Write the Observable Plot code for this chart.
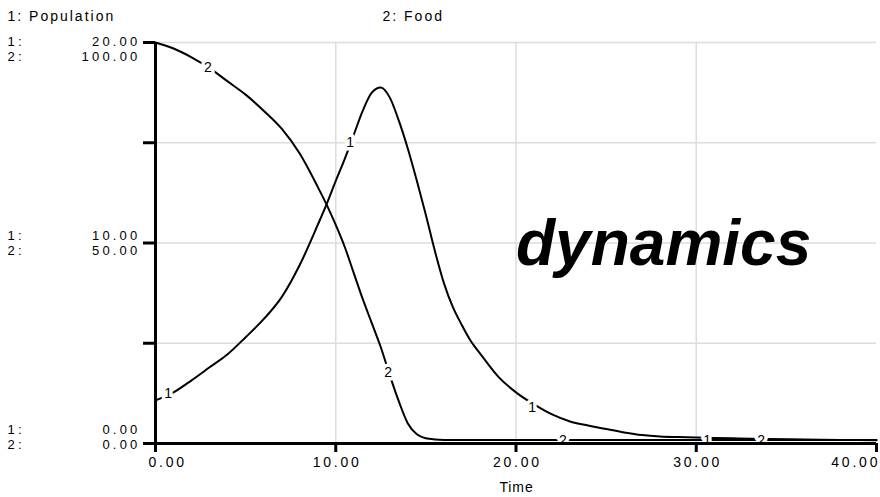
<!DOCTYPE html>
<html>
<head>
<meta charset="utf-8">
<script src="https://cdn.jsdelivr.net/npm/d3@7"></script>
<script src="https://cdn.jsdelivr.net/npm/@observablehq/plot@0.6"></script>
<style>
  html, body { margin: 0; padding: 0; background: #fff; }
  #wrap { position: relative; width: 880px; height: 497px; overflow: hidden; }
  #wrap svg text { letter-spacing: 2.8px; }
  #wrap svg [aria-description="ylabels"] text { letter-spacing: 3.2px; }
  #wrap svg [aria-description="header"] text { letter-spacing: 2px; }
  #wrap svg [aria-description="title"] text { letter-spacing: 0.9px; }
  #wrap svg [aria-description="linelabel"] text { letter-spacing: 0; }
  #big { position: absolute; left: 516px; top: 211px; font-family: "Liberation Sans", Arial, sans-serif;
         font-weight: bold; font-style: italic; font-size: 64px; line-height: 64px; color: #000; white-space: nowrap; }
</style>
</head>
<body>
<div id="wrap"><div id="big">dynamics</div></div>
<script>
// ---- data ----
const times      = [0, 1, 2, 3, 4, 5, 6, 7, 8, 9, 9.5, 10, 10.5, 11, 11.5, 12, 12.5, 13, 13.5, 14, 14.5, 15, 15.5, 16, 16.5, 17, 17.5, 18, 19, 20, 21, 22, 23, 24, 25, 26, 27, 28, 29, 30, 32, 34, 36, 38, 40];
const population = [2.15, 2.55, 3.15, 3.8, 4.45, 5.3, 6.2, 7.3, 8.9, 10.9, 11.95, 13.1, 14.2, 15.4, 16.6, 17.5, 17.75, 17.25, 16.1, 14.7, 13.1, 11.4, 9.6, 8.0, 6.8, 5.9, 5.1, 4.5, 3.35, 2.55, 1.95, 1.45, 1.1, 0.9, 0.72, 0.55, 0.42, 0.35, 0.32, 0.3, 0.26, 0.22, 0.2, 0.18, 0.16];
const food       = [100, 98.5, 96.3, 93.6, 90.3, 87, 83, 78.5, 72.3, 64, 59.5, 54.5, 49, 42.5, 36, 30, 24, 17, 10.5, 5, 2.3, 1.3, 1.0, 0.9, 0.9, 0.9, 0.9, 0.9, 0.9, 0.9, 0.9, 0.9, 0.9, 0.9, 0.9, 0.9, 0.9, 0.9, 0.9, 0.9, 0.9, 0.9, 0.9, 0.9, 0.9];
const seriesNames = ["1: Population", "2: Food"];
// line-label positions (time, value in each series' own units)
const popLabelT   = [0.7, 10.8, 20.9, 30.6];
const popLabelV   = [2.5, 15.0, 1.8, 0.15];
const foodLabelT  = [2.9, 12.9, 22.6, 33.6];
const foodLabelV  = [93.8, 17.7, 0.8, 0.8];
// axis ticks
const xTicks      = [0, 10, 20, 30, 40];
const xTickLabels = ["0.00", "10.00", "20.00", "30.00", "40.00"];
const yTicks      = [0, 5, 10, 15, 20];
const yLabelPop   = ["0.00", "10.00", "20.00"];
const yLabelFood  = ["0.00", "50.00", "100.00"];
const yLabelAt    = [0, 10, 20];
const foodMax = 100, popMax = 20;

// ---- tables ----
const rows = times.map((t, i) => ({t, pop: population[i], food: food[i]}));
const popLabels = popLabelT.map((t, i) => ({t, v: popLabelV[i]}));
const foodLabels = foodLabelT.map((t, i) => ({t, v: foodLabelV[i]}));
const yLab = yLabelAt.map((v, i) => ({v, nums: yLabelPop[i] + "\n" + yLabelFood[i], ids: "1:\n2:"}));
const xLab = xTicks.map((t, i) => ({t, label: xTickLabels[i]}));
const toPop = f => f * popMax / foodMax;

const font = "'Liberation Sans', Arial, sans-serif";
const rowDy = [-7, 0, 6];

const marks = [
  Plot.gridX([10, 20, 30], {stroke: "#dcdcdc", strokeOpacity: 1, strokeWidth: 1.5}),
  Plot.gridY([5, 10, 15, 20], {stroke: "#dcdcdc", strokeOpacity: 1, strokeWidth: 1.5}),
  Plot.line(rows, {x: "t", y: d => toPop(d.food), stroke: "#000", strokeWidth: 2, curve: "monotone-x"}),
  Plot.line(rows, {x: "t", y: "pop", stroke: "#000", strokeWidth: 2, curve: "monotone-x"}),
  Plot.text(popLabels, {x: "t", y: "v", text: () => "1", fill: "#000", stroke: "#fff", strokeWidth: 7, fontSize: 14, fontFamily: font, ariaDescription: "linelabel"}),
  Plot.text(foodLabels, {x: "t", y: d => toPop(d.v), text: () => "2", fill: "#000", stroke: "#fff", strokeWidth: 7, fontSize: 14, fontFamily: font, ariaDescription: "linelabel"}),
  Plot.ruleX([0], {y1: 0, y2: popMax, stroke: "#000", strokeWidth: 3}),
  Plot.ruleY([0], {x1: 0, x2: 40, stroke: "#000", strokeWidth: 3}),
  Plot.axisY({ticks: yTicks, tickSize: 12, tickFormat: () => "", label: null, stroke: "#000", strokeWidth: 3}),
  Plot.axisX({ticks: xTicks, tickSize: 9, tickFormat: () => "", label: null, stroke: "#000", strokeWidth: 3}),
  // x tick labels
  Plot.text(xLab.slice(0, 1), {x: "t", text: "label", frameAnchor: "bottom", dy: 23, dx: -7, textAnchor: "start", fontSize: 14, fontFamily: font, fill: "#000"}),
  Plot.text(xLab.slice(1, 4), {x: "t", text: "label", frameAnchor: "bottom", dy: 23, dx: 1.4, fontSize: 14, fontFamily: font, fill: "#000"}),
  Plot.text(xLab.slice(4), {x: "t", text: "label", frameAnchor: "bottom", dy: 23, dx: 3.8, textAnchor: "end", fontSize: 14, fontFamily: font, fill: "#000"}),
  // x axis title
  Plot.text(["Time"], {frameAnchor: "bottom", dy: 48, dx: 0.5, fontSize: 14, fontFamily: font, fill: "#000", ariaDescription: "title"}),
  // series header
  Plot.text([seriesNames[0]], {frameAnchor: "top-left", dx: -148, dy: -31, textAnchor: "start", fontSize: 14, fontFamily: font, fill: "#000", ariaDescription: "header"}),
  Plot.text([seriesNames[1]], {frameAnchor: "top-left", dx: 227, dy: -31, textAnchor: "start", fontSize: 14, fontFamily: font, fill: "#000", ariaDescription: "header"})
];
// two-row y tick labels
yLab.forEach((d, i) => {
  marks.push(Plot.text([d], {y: "v", text: "nums", frameAnchor: "left", dx: -15, dy: rowDy[i], textAnchor: "end", lineAnchor: "middle", lineHeight: 1.15, fontSize: 13, fontFamily: font, fill: "#000", ariaDescription: "ylabels"}));
  marks.push(Plot.text([d], {y: "v", text: "ids", frameAnchor: "left", dx: -148, dy: rowDy[i], textAnchor: "start", lineAnchor: "middle", lineHeight: 1.15, fontSize: 13, fontFamily: font, fill: "#000", ariaDescription: "ylabels"}));
});

const chart = Plot.plot({
  width: 880,
  height: 497,
  marginLeft: 155,
  marginRight: 4,
  marginTop: 42,
  marginBottom: 54,
  style: {background: "#fff", overflow: "visible"},
  x: {domain: [0, 40], axis: null},
  y: {domain: [0, popMax], axis: null},
  marks
});
document.getElementById("wrap").prepend(chart);
</script>
</body>
</html>
